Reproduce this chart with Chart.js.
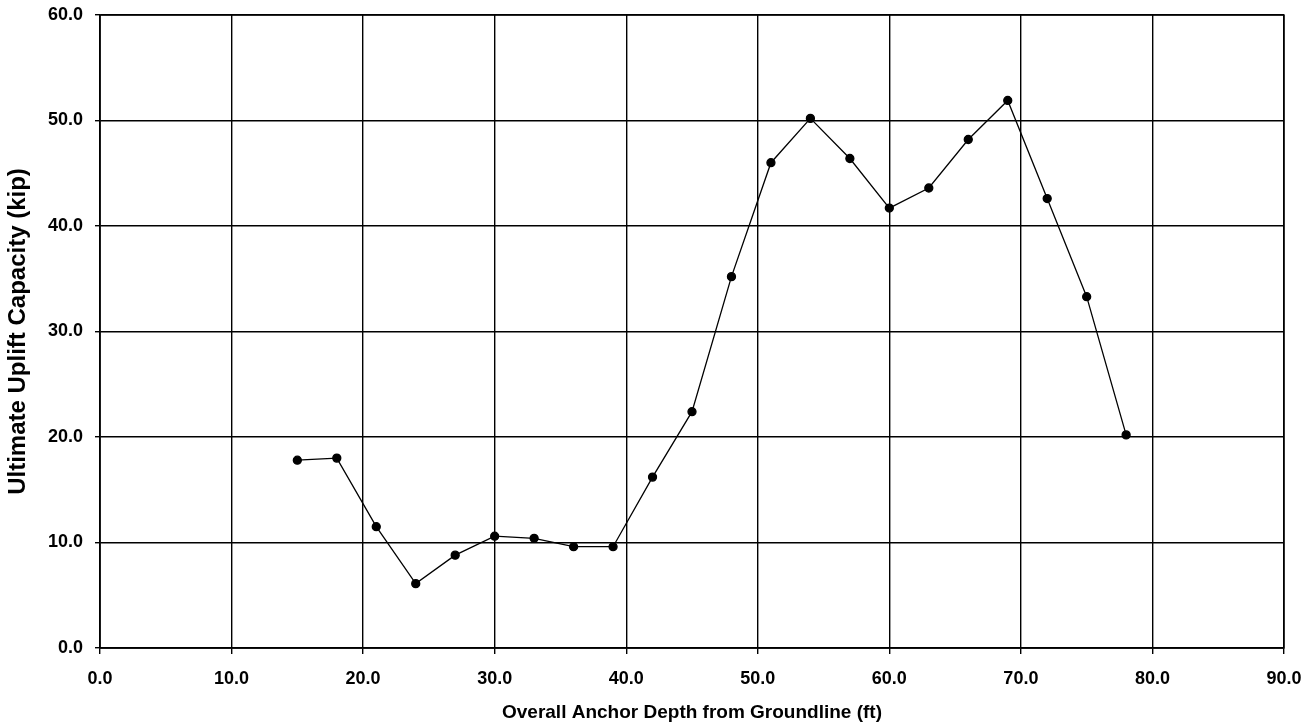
<!DOCTYPE html>
<html>
<head>
<meta charset="utf-8">
<script src="https://cdn.jsdelivr.net/npm/chart.js@4"></script>
<style>
  html, body { margin: 0; padding: 0; background: #fff; }
  #wrap { width: 1315px; height: 726px; }
</style>
</head>
<body>
<div id="wrap"><canvas id="chart"></canvas></div>
<script>
// depth (ft) vs ultimate uplift capacity (kip)
const depths = [15, 18, 21, 24, 27, 30, 33, 36, 39, 42, 45, 48, 51, 54, 57, 60, 63, 66, 69, 72, 75, 78];
const capacities = [17.8, 18.0, 11.5, 6.1, 8.8, 10.6, 10.4, 9.6, 9.6, 16.2, 22.4, 35.2, 46.0, 50.2, 46.4, 41.7, 43.6, 48.2, 51.9, 42.6, 33.3, 20.2];
const xTitle = 'Overall Anchor Depth from Groundline (ft)';
const yTitle = 'Ultimate Uplift Capacity (kip)';

const points = depths.map((d, i) => ({ x: d, y: capacities[i] }));
const tickFont = { family: 'Liberation Sans, Arial', size: 18, weight: 'bold' };

new Chart(document.getElementById('chart'), {
  type: 'line',
  data: {
    datasets: [{
      data: points,
      borderColor: '#000',
      backgroundColor: '#000',
      borderWidth: 1.3,
      pointRadius: 4,
      pointHoverRadius: 4,
      tension: 0
    }]
  },
  options: {
    responsive: true,
    maintainAspectRatio: false,
    animation: false,
    layout: { padding: { left: 0, right: 31, top: 15, bottom: 0 } },
    plugins: { legend: { display: false }, tooltip: { enabled: false } },
    scales: {
      x: {
        type: 'linear',
        min: 0, max: 90,
        ticks: { stepSize: 10, color: '#000', font: tickFont, padding: 14,
          maxRotation: 0, callback: v => v.toFixed(1) },
        grid: { color: '#000', lineWidth: 1.4, tickLength: 6 },
        border: { color: '#000', width: 1.4 },
        title: { display: true, text: xTitle, color: '#000',
          font: { family: 'Liberation Sans, Arial', size: 19, weight: 'bold' }, padding: { top: 0, bottom: 2 } },
        afterFit: s => { s.height = 78; s.paddingLeft = 0; s.paddingRight = 0; }
      },
      y: {
        min: 0, max: 60,
        ticks: { stepSize: 10, color: '#000', font: tickFont, padding: 12,
          callback: v => v.toFixed(1) },
        grid: { color: '#000', lineWidth: 1.4, tickLength: 5 },
        border: { color: '#000', width: 1.4 },
        title: { display: true, text: yTitle, color: '#000',
          font: { family: 'Liberation Sans, Arial', size: 24, weight: 'bold' }, padding: { top: 4, bottom: 0 } },
        afterFit: s => { s.width = 100; s.paddingTop = 0; s.paddingBottom = 0; }
      }
    }
  },
  plugins: [{
    id: 'frame',
    afterDraw(chart) {
      const { ctx, chartArea: a } = chart;
      ctx.save();
      ctx.strokeStyle = '#000';
      ctx.lineWidth = 1.4;
      ctx.strokeRect(a.left, a.top, a.right - a.left, a.bottom - a.top);
      ctx.restore();
    }
  }]
});
</script>
</body>
</html>
